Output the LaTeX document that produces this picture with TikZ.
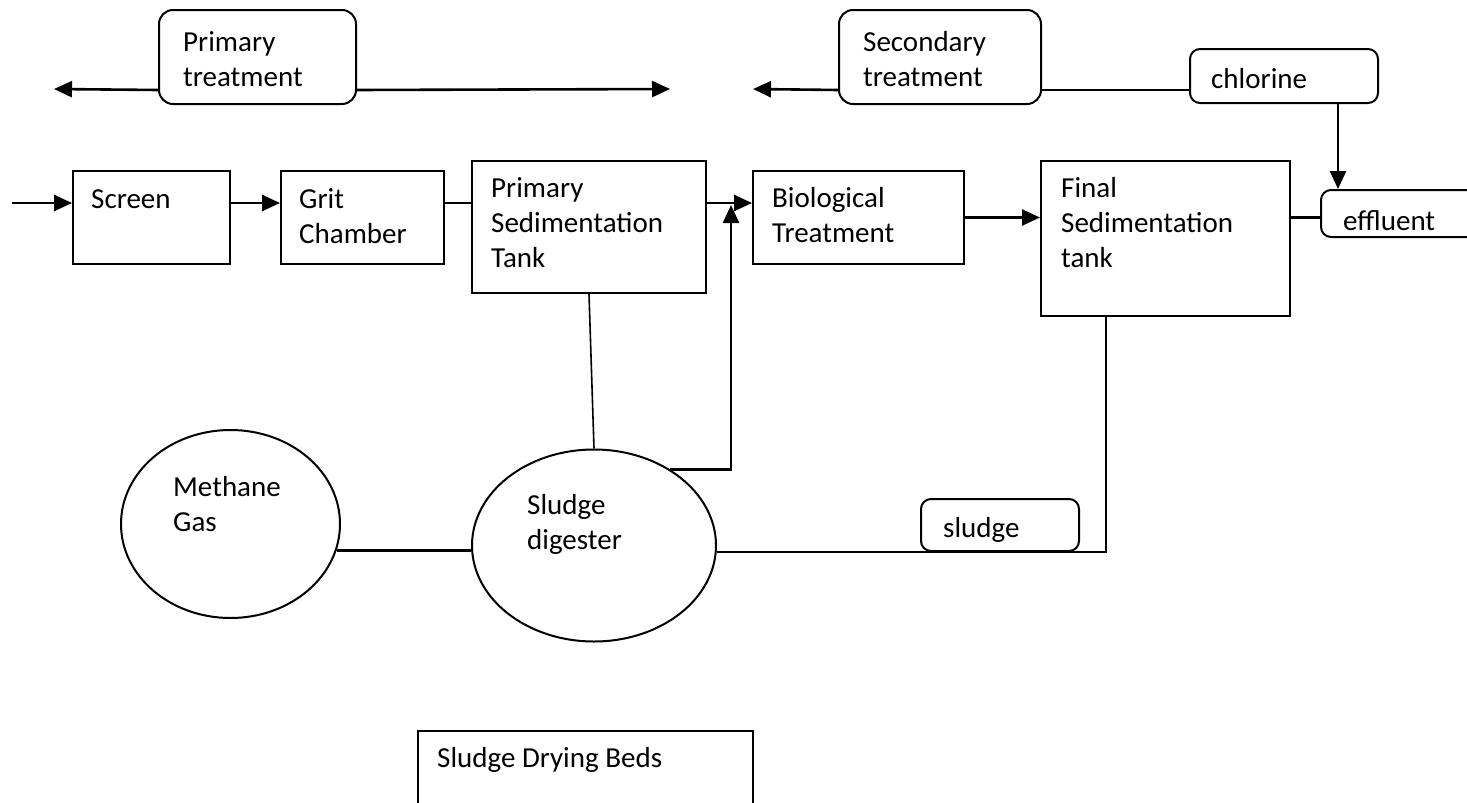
\documentclass[tikz,border=0pt]{standalone}
\usepackage{fontspec}
\setmainfont{Carlito}
\usetikzlibrary{arrows.meta,shapes.geometric}
\begin{document}
\begin{tikzpicture}[x=1pt,y=-1pt,
  box/.style={draw,line width=2pt,rectangle,inner sep=0pt,anchor=north west},
  rbox/.style={box,rounded corners=14pt},
  sbox/.style={box,rounded corners=10pt},
  oval/.style={draw,line width=2pt,ellipse,inner sep=0pt},
  lbl/.style={inner sep=0pt,anchor=base west,font=\fontsize{29}{35}\selectfont},
  arr/.style={line width=2.6pt,-{Triangle[length=18pt,width=16pt]}},
  conn/.style={line width=2.6pt},
  thinline/.style={line width=1.6pt}]
\useasboundingbox (0,0) rectangle (1467,803);
\clip (0,0) rectangle (1467,803);

% boxes
\node[rbox,minimum width=197pt,minimum height=94pt] (prim) at (158,9) {};
\node[rbox,minimum width=202pt,minimum height=94pt] (sec) at (838,9) {};
\node[sbox,minimum width=188pt,minimum height=54pt] (chl) at (1189,48) {};
\node[box,minimum width=157pt,minimum height=93pt] (screen) at (72,170) {};
\node[box,minimum width=163pt,minimum height=93pt] (grit) at (280,170) {};
\node[box,minimum width=234pt,minimum height=132pt] (pst) at (471,160) {};
\node[box,minimum width=211pt,minimum height=93pt] (bio) at (752,170) {};
\node[box,minimum width=249pt,minimum height=155pt] (final) at (1040,160) {};
\node[sbox,minimum width=180pt,minimum height=47pt] (eff) at (1320,189) {};
\node[sbox,minimum width=158pt,minimum height=52pt] (sludge) at (920,498) {};
\node[box,minimum width=335pt,minimum height=120pt] (beds) at (417,730) {};
\node[oval,minimum width=219pt,minimum height=188pt] (meth) at (230.5,524) {};
\node[oval,minimum width=244pt,minimum height=192pt] (dig) at (594,545.5) {};

% labels
\node[lbl] (primT) at (183,51) {\parbox[t]{200pt}{Primary\\treatment}};
\node[lbl] (secT) at (863,51) {\parbox[t]{200pt}{Secondary\\treatment}};
\node[lbl] (chlT) at (1211,88) {chlorine};
\node[lbl] (screenT) at (91,208) {Screen};
\node[lbl] (gritT) at (299,208) {\parbox[t]{200pt}{Grit\\Chamber}};
\node[lbl] (pstT) at (491,197) {\parbox[t]{220pt}{Primary\\Sedimentation\\Tank}};
\node[lbl] (bioT) at (772,207) {\parbox[t]{200pt}{Biological\\Treatment}};
\node[lbl] (finalT) at (1061,197) {\parbox[t]{220pt}{Final\\Sedimentation\\tank}};
\node[lbl] (effT) at (1343,230) {effluent};
\node[lbl] (sludgeT) at (943,537) {sludge};
\node[lbl] (bedsT) at (437,767) {Sludge Drying Beds};
\node[lbl] (methT) at (173,496) {\parbox[t]{200pt}{Methane\\Gas}};
\node[lbl] (digT) at (527,514) {\parbox[t]{200pt}{Sludge\\digester}};

% coordinates for free ends
\coordinate (inS) at (12,203);
\coordinate (pl) at (54,89);
\coordinate (pr) at (670,89);
\coordinate (sl) at (753,89);
\coordinate (ret) at (731,205);

% connectors
\draw[arr] ([yshift=-33pt]prim.west) -- (pl);
\draw[arr] ([yshift=-33pt]prim.east) -- (pr);
\draw[arr] ([yshift=-33pt]sec.west) -- (sl);
\draw[conn] ([yshift=-33pt]sec.east) -- ([yshift=-33pt]sec.east -| chl.west);
\draw[arr] ([xshift=54pt]chl.south) -- ([xshift=54pt]chl.south |- eff.north);

\draw[arr] (inS) -- (inS -| screen.west);
\draw[arr] (screen.east |- inS) -- (grit.west |- inS);
\draw[conn] (grit.east |- inS) -- (pst.west |- inS);
\draw[arr] ([yshift=24pt]pst.east) -- ([yshift=24pt]pst.east -| bio.west);
\draw[arr] (bio.east) -- (bio.east -| final.west);
\draw[conn] (final.east |- bio.east) -- (eff.west |- bio.east);

\draw[thinline] (pst.south) -- (dig.north);
\draw[arr] (dig.45) -| (ret);
\draw[conn] (meth.-14) -- (meth.-14 -| dig.west);
\draw[conn] (dig.-3) -| ([xshift=-59.5pt]final.south);
\end{tikzpicture}
\end{document}
